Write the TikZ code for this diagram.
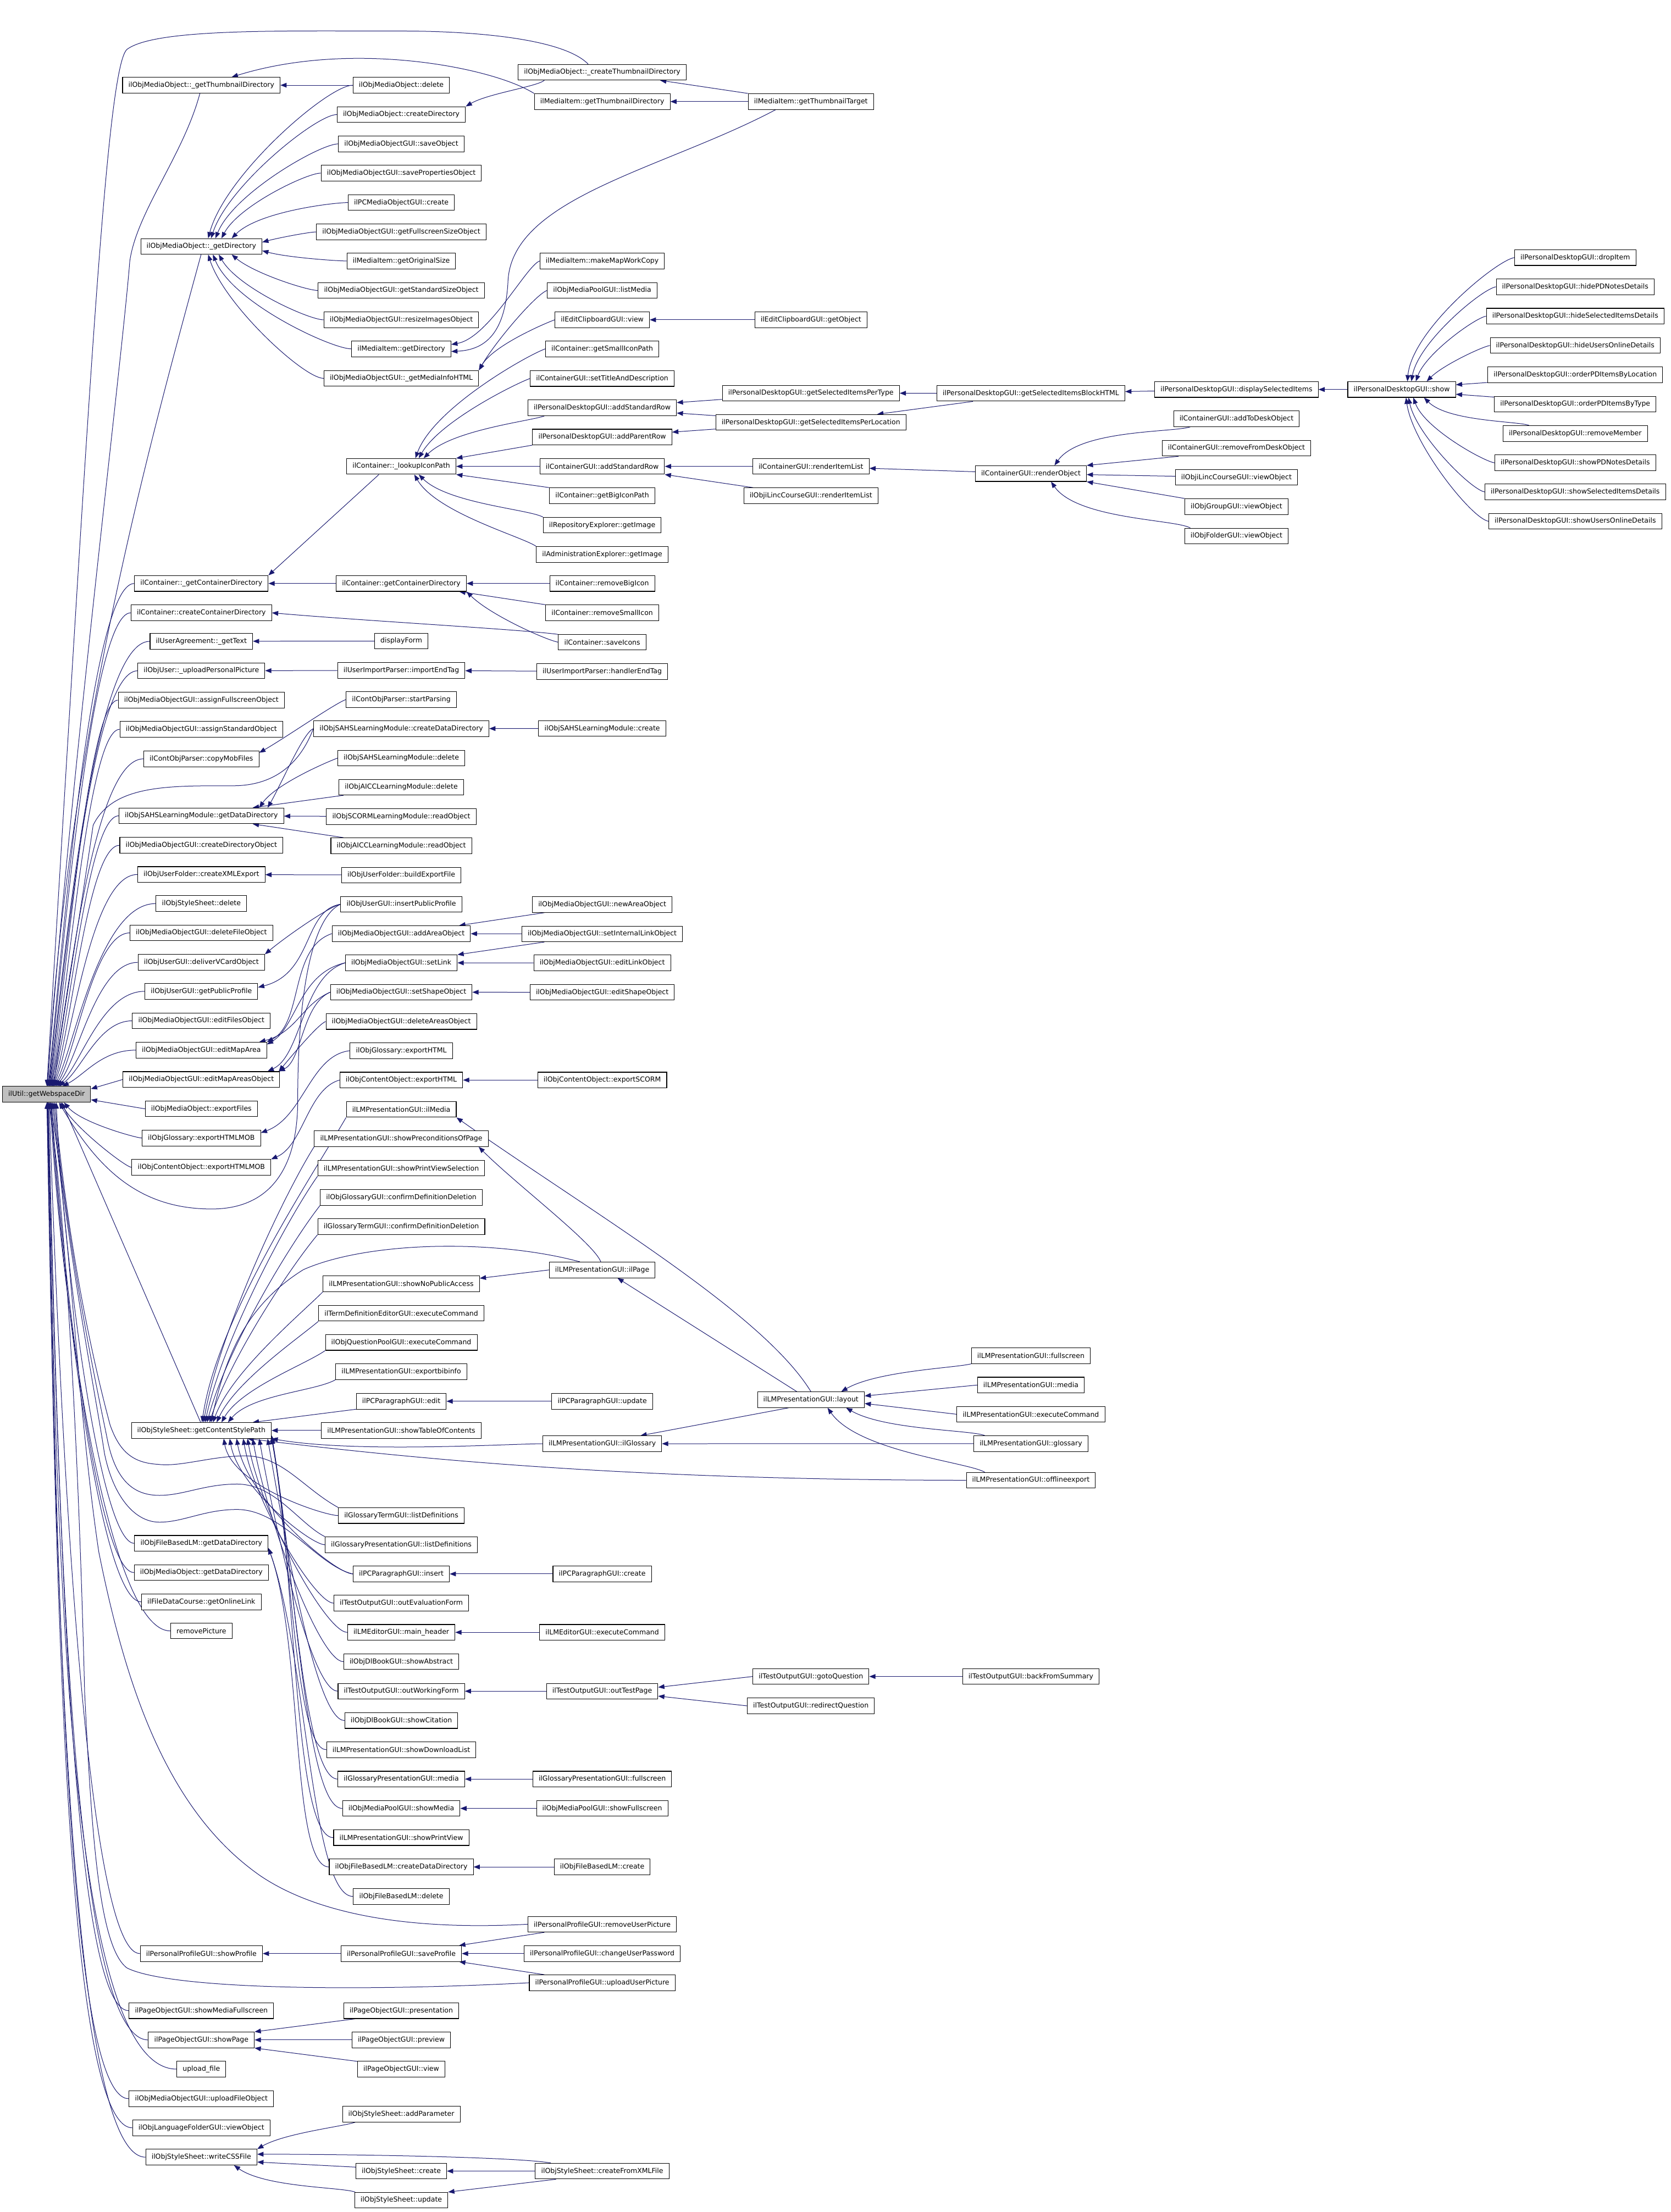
\documentclass[tikz,border=0pt]{standalone}
\usepackage{fontspec}
\setmainfont{DejaVu Sans}
\usetikzlibrary{arrows.meta}
\pgfdeclarelayer{bg}
\pgfsetlayers{bg,main}
\definecolor{edgecol}{HTML}{191970}
\definecolor{rootfill}{HTML}{BFBFBF}
\tikzset{
 fn/.style={draw=black, line width=0.8pt, fill=white, rectangle, minimum height=21.4pt, inner xsep=8pt, inner ysep=0pt, font=\fontsize{9.375pt}{11pt}\selectfont},
 e/.style={draw=edgecol, line width=0.75pt, -{Triangle[length=8.5pt,width=6.5pt]}, out looseness=0.3, in looseness=0.8},
}
\newcommand\RootEdge[3]{\draw[e,out=180,in=#3,out looseness=0.15,in looseness=0.8] (#1.west) to (root.#2);}
% caller, root anchor angle, first control, second control
\newcommand\RootCurve[4]{\draw[e] (#1.west) .. controls (#3) and (#4) .. (root.#2);}
\begin{document}
\begin{tikzpicture}[x=1.9257pt,y=-1.9257pt]
\useasboundingbox (0,0) rectangle (1184,1568);
% root
\node[fn,fill=rootfill] (root) at (33,775.7) {ilUtil::getWebspaceDir};
% column 1
\node[fn] (a1) at (142.7,60.4) {ilObjMediaObject::\_getThumbnailDirectory};
\node[fn] (a2) at (142.7,174.7) {ilObjMediaObject::\_getDirectory};
\node[fn] (a3) at (142.7,413.6) {ilContainer::\_getContainerDirectory};
\node[fn] (a4) at (142.7,434.4) {ilContainer::createContainerDirectory};
\node[fn] (a5) at (142.7,454.6) {ilUserAgreement::\_getText};
\node[fn] (a6) at (142.7,475.5) {ilObjUser::\_uploadPersonalPicture};
\node[fn] (a7) at (142.7,496.3) {ilObjMediaObjectGUI::assignFullscreenObject};
\node[fn] (a8) at (142.7,517.0) {ilObjMediaObjectGUI::assignStandardObject};
\node[fn] (a9) at (142.7,537.9) {ilContObjParser::copyMobFiles};
\node[fn] (a10) at (142.7,578.3) {ilObjSAHSLearningModule::getDataDirectory};
\node[fn] (a11) at (142.7,599.2) {ilObjMediaObjectGUI::createDirectoryObject};
\node[fn] (a12) at (142.7,619.9) {ilObjUserFolder::createXMLExport};
\node[fn] (a13) at (142.7,640.5) {ilObjStyleSheet::delete};
\node[fn] (a14) at (142.7,661.3) {ilObjMediaObjectGUI::deleteFileObject};
\node[fn] (a15) at (142.7,682.2) {ilObjUserGUI::deliverVCardObject};
\node[fn] (a16) at (142.7,702.7) {ilObjUserGUI::getPublicProfile};
\node[fn] (a17) at (142.7,723.6) {ilObjMediaObjectGUI::editFilesObject};
\node[fn] (a18) at (142.7,744.4) {ilObjMediaObjectGUI::editMapArea};
\node[fn] (a19) at (142.7,765.2) {ilObjMediaObjectGUI::editMapAreasObject};
\node[fn] (a20) at (142.7,786.0) {ilObjMediaObject::exportFiles};
\node[fn] (a21) at (142.7,806.7) {ilObjGlossary::exportHTMLMOB};
\node[fn] (a22) at (142.7,827.5) {ilObjContentObject::exportHTMLMOB};
\node[fn] (a23) at (142.7,1014.0) {ilObjStyleSheet::getContentStylePath};
\node[fn] (a24) at (142.7,1094.0) {ilObjFileBasedLM::getDataDirectory};
\node[fn] (a25) at (142.7,1114.7) {ilObjMediaObject::getDataDirectory};
\node[fn] (a26) at (142.7,1135.5) {ilFileDataCourse::getOnlineLink};
\node[fn] (a27) at (142.7,1156.1) {removePicture};
\node[fn] (a28) at (142.7,1384.8) {ilPersonalProfileGUI::showProfile};
\node[fn] (a29) at (142.7,1425.3) {ilPageObjectGUI::showMediaFullscreen};
\node[fn] (a30) at (142.7,1446.0) {ilPageObjectGUI::showPage};
\node[fn] (a31) at (142.7,1466.7) {upload\_file};
\node[fn] (a32) at (142.7,1487.7) {ilObjMediaObjectGUI::uploadFileObject};
\node[fn] (a33) at (142.7,1508.3) {ilObjLanguageFolderGUI::viewObject};
\node[fn] (a34) at (142.7,1529.1) {ilObjStyleSheet::writeCSSFile};
% column 2
\node[fn] (b1) at (284.4,60.4) {ilObjMediaObject::delete};
\node[fn] (b2) at (284.4,81.2) {ilObjMediaObject::createDirectory};
\node[fn] (b3) at (284.4,102.0) {ilObjMediaObjectGUI::saveObject};
\node[fn] (b4) at (284.4,122.7) {ilObjMediaObjectGUI::savePropertiesObject};
\node[fn] (b5) at (284.4,143.6) {ilPCMediaObjectGUI::create};
\node[fn] (b6) at (284.4,164.4) {ilObjMediaObjectGUI::getFullscreenSizeObject};
\node[fn] (b7) at (284.4,185.0) {ilMediaItem::getOriginalSize};
\node[fn] (b8) at (284.4,205.9) {ilObjMediaObjectGUI::getStandardSizeObject};
\node[fn] (b9) at (284.4,226.7) {ilObjMediaObjectGUI::resizeImagesObject};
\node[fn] (b10) at (284.4,247.3) {ilMediaItem::getDirectory};
\node[fn] (b11) at (284.4,268.2) {ilObjMediaObjectGUI::\_getMediaInfoHTML};
\node[fn] (b12) at (284.4,330.6) {ilContainer::\_lookupIconPath};
\node[fn] (b13) at (284.4,413.6) {ilContainer::getContainerDirectory};
\node[fn] (b14) at (284.4,454.4) {displayForm};
\node[fn] (b15) at (284.4,475.2) {ilUserImportParser::importEndTag};
\node[fn] (b16) at (284.4,495.9) {ilContObjParser::startParsing};
\node[fn] (b17) at (284.4,516.5) {ilObjSAHSLearningModule::createDataDirectory};
\node[fn] (b18) at (284.4,537.4) {ilObjSAHSLearningModule::delete};
\node[fn] (b19) at (284.4,558.0) {ilObjAICCLearningModule::delete};
\node[fn] (b20) at (284.4,578.8) {ilObjSCORMLearningModule::readObject};
\node[fn] (b21) at (284.4,599.5) {ilObjAICCLearningModule::readObject};
\node[fn] (b22) at (284.4,620.3) {ilObjUserFolder::buildExportFile};
\node[fn] (b23) at (284.4,641.0) {ilObjUserGUI::insertPublicProfile};
\node[fn] (b24) at (284.4,661.8) {ilObjMediaObjectGUI::addAreaObject};
\node[fn] (b25) at (284.4,682.5) {ilObjMediaObjectGUI::setLink};
\node[fn] (b26) at (284.4,703.3) {ilObjMediaObjectGUI::setShapeObject};
\node[fn] (b27) at (284.4,724.1) {ilObjMediaObjectGUI::deleteAreasObject};
\node[fn] (b28) at (284.4,744.8) {ilObjGlossary::exportHTML};
\node[fn] (b29) at (284.4,765.6) {ilObjContentObject::exportHTML};
\node[fn] (b30) at (284.4,786.4) {ilLMPresentationGUI::ilMedia};
\node[fn] (b31) at (284.4,807.2) {ilLMPresentationGUI::showPreconditionsOfPage};
\node[fn] (b32) at (284.4,828.0) {ilLMPresentationGUI::showPrintViewSelection};
\node[fn] (b33) at (284.4,848.8) {ilObjGlossaryGUI::confirmDefinitionDeletion};
\node[fn] (b34) at (284.4,869.5) {ilGlossaryTermGUI::confirmDefinitionDeletion};
\node[fn] (b35) at (284.4,910.0) {ilLMPresentationGUI::showNoPublicAccess};
\node[fn] (b36) at (284.4,930.9) {ilTermDefinitionEditorGUI::executeCommand};
\node[fn] (b37) at (284.4,951.6) {ilObjQuestionPoolGUI::executeCommand};
\node[fn] (b38) at (284.4,972.3) {ilLMPresentationGUI::exportbibinfo};
\node[fn] (b39) at (284.4,993.3) {ilPCParagraphGUI::edit};
\node[fn] (b40) at (284.4,1014.0) {ilLMPresentationGUI::showTableOfContents};
\node[fn] (b41) at (284.4,1074.3) {ilGlossaryTermGUI::listDefinitions};
\node[fn] (b42) at (284.4,1095.0) {ilGlossaryPresentationGUI::listDefinitions};
\node[fn] (b43) at (284.4,1115.7) {ilPCParagraphGUI::insert};
\node[fn] (b44) at (284.4,1136.4) {ilTestOutputGUI::outEvaluationForm};
\node[fn] (b45) at (284.4,1157.1) {ilLMEditorGUI::main\_header};
\node[fn] (b46) at (284.4,1177.9) {ilObjDlBookGUI::showAbstract};
\node[fn] (b47) at (284.4,1198.8) {ilTestOutputGUI::outWorkingForm};
\node[fn] (b48) at (284.4,1219.6) {ilObjDlBookGUI::showCitation};
\node[fn] (b49) at (284.4,1240.3) {ilLMPresentationGUI::showDownloadList};
\node[fn] (b50) at (284.4,1261.1) {ilGlossaryPresentationGUI::media};
\node[fn] (b51) at (284.4,1281.9) {ilObjMediaPoolGUI::showMedia};
\node[fn] (b52) at (284.4,1302.6) {ilLMPresentationGUI::showPrintView};
\node[fn] (b53) at (284.4,1323.4) {ilObjFileBasedLM::createDataDirectory};
\node[fn] (b54) at (284.4,1344.3) {ilObjFileBasedLM::delete};
\node[fn] (b55) at (284.4,1384.8) {ilPersonalProfileGUI::saveProfile};
\node[fn] (b56) at (284.4,1425.3) {ilPageObjectGUI::presentation};
\node[fn] (b57) at (284.4,1446.0) {ilPageObjectGUI::preview};
\node[fn] (b58) at (284.4,1466.7) {ilPageObjectGUI::view};
\node[fn] (b59) at (284.4,1498.6) {ilObjStyleSheet::addParameter};
\node[fn] (b60) at (284.4,1539.0) {ilObjStyleSheet::create};
\node[fn] (b61) at (284.4,1559.6) {ilObjStyleSheet::update};
% column 3
\node[fn] (c1) at (426.8,51.2) {ilObjMediaObject::\_createThumbnailDirectory};
\node[fn] (c2) at (426.8,72.0) {ilMediaItem::getThumbnailDirectory};
\node[fn] (c3) at (426.8,185.0) {ilMediaItem::makeMapWorkCopy};
\node[fn] (c4) at (426.8,205.9) {ilObjMediaPoolGUI::listMedia};
\node[fn] (c5) at (426.8,226.7) {ilEditClipboardGUI::view};
\node[fn] (c6) at (426.8,247.3) {ilContainer::getSmallIconPath};
\node[fn] (c7) at (426.8,268.3) {ilContainerGUI::setTitleAndDescription};
\node[fn] (c8) at (426.8,289.1) {ilPersonalDesktopGUI::addStandardRow};
\node[fn] (c9) at (426.8,309.8) {ilPersonalDesktopGUI::addParentRow};
\node[fn] (c10) at (426.8,330.6) {ilContainerGUI::addStandardRow};
\node[fn] (c11) at (426.8,351.4) {ilContainer::getBigIconPath};
\node[fn] (c12) at (426.8,372.3) {ilRepositoryExplorer::getImage};
\node[fn] (c13) at (426.8,393.0) {ilAdministrationExplorer::getImage};
\node[fn] (c14) at (426.8,413.6) {ilContainer::removeBigIcon};
\node[fn] (c15) at (426.8,434.4) {ilContainer::removeSmallIcon};
\node[fn] (c16) at (426.8,455.2) {ilContainer::saveIcons};
\node[fn] (c17) at (426.8,476.0) {ilUserImportParser::handlerEndTag};
\node[fn] (c18) at (426.8,516.4) {ilObjSAHSLearningModule::create};
\node[fn] (c19) at (426.8,641.2) {ilObjMediaObjectGUI::newAreaObject};
\node[fn] (c20) at (426.8,662.0) {ilObjMediaObjectGUI::setInternalLinkObject};
\node[fn] (c21) at (426.8,682.6) {ilObjMediaObjectGUI::editLinkObject};
\node[fn] (c22) at (426.8,703.4) {ilObjMediaObjectGUI::editShapeObject};
\node[fn] (c23) at (426.8,765.6) {ilObjContentObject::exportSCORM};
\node[fn] (c24) at (426.8,900.2) {ilLMPresentationGUI::ilPage};
\node[fn] (c25) at (426.8,993.3) {ilPCParagraphGUI::update};
\node[fn] (c26) at (426.8,1023.4) {ilLMPresentationGUI::ilGlossary};
\node[fn] (c27) at (426.8,1115.7) {ilPCParagraphGUI::create};
\node[fn] (c28) at (426.8,1157.1) {ilLMEditorGUI::executeCommand};
\node[fn] (c29) at (426.8,1198.8) {ilTestOutputGUI::outTestPage};
\node[fn] (c30) at (426.8,1261.1) {ilGlossaryPresentationGUI::fullscreen};
\node[fn] (c31) at (426.8,1281.9) {ilObjMediaPoolGUI::showFullscreen};
\node[fn] (c32) at (426.8,1323.4) {ilObjFileBasedLM::create};
\node[fn] (c33) at (426.8,1364.0) {ilPersonalProfileGUI::removeUserPicture};
\node[fn] (c34) at (426.8,1384.8) {ilPersonalProfileGUI::changeUserPassword};
\node[fn] (c35) at (426.8,1405.5) {ilPersonalProfileGUI::uploadUserPicture};
\node[fn] (c36) at (426.8,1539.0) {ilObjStyleSheet::createFromXMLFile};
% column 4
\node[fn] (d1) at (574.7,72.0) {ilMediaItem::getThumbnailTarget};
\node[fn] (d2) at (574.7,226.7) {ilEditClipboardGUI::getObject};
\node[fn] (d3) at (574.7,278.7) {ilPersonalDesktopGUI::getSelectedItemsPerType};
\node[fn] (d4) at (574.7,299.4) {ilPersonalDesktopGUI::getSelectedItemsPerLocation};
\node[fn] (d5) at (574.7,330.6) {ilContainerGUI::renderItemList};
\node[fn] (d6) at (574.7,351.4) {ilObjiLincCourseGUI::renderItemList};
\node[fn] (d7) at (574.7,992.2) {ilLMPresentationGUI::layout};
\node[fn] (d8) at (574.7,1188.4) {ilTestOutputGUI::gotoQuestion};
\node[fn] (d9) at (574.7,1209.2) {ilTestOutputGUI::redirectQuestion};
% column 5
\node[fn] (e1) at (730.6,278.8) {ilPersonalDesktopGUI::getSelectedItemsBlockHTML};
\node[fn] (e2) at (730.6,335.7) {ilContainerGUI::renderObject};
\node[fn] (e3) at (730.6,961.0) {ilLMPresentationGUI::fullscreen};
\node[fn] (e4) at (730.6,981.8) {ilLMPresentationGUI::media};
\node[fn] (e5) at (730.6,1002.5) {ilLMPresentationGUI::executeCommand};
\node[fn] (e6) at (730.6,1023.3) {ilLMPresentationGUI::glossary};
\node[fn] (e7) at (730.6,1049.3) {ilLMPresentationGUI::offlineexport};
\node[fn] (e8) at (730.6,1188.4) {ilTestOutputGUI::backFromSummary};
% column 6
\node[fn] (f1) at (876.3,276.1) {ilPersonalDesktopGUI::displaySelectedItems};
\node[fn] (f2) at (876.3,296.8) {ilContainerGUI::addToDeskObject};
\node[fn] (f3) at (876.3,317.7) {ilContainerGUI::removeFromDeskObject};
\node[fn] (f4) at (876.3,338.4) {ilObjiLincCourseGUI::viewObject};
\node[fn] (f5) at (876.3,359.1) {ilObjGroupGUI::viewObject};
\node[fn] (f6) at (876.3,380.0) {ilObjFolderGUI::viewObject};
% column 7
\node[fn] (g1) at (993.4,276.1) {ilPersonalDesktopGUI::show};
% column 8
\node[fn] (h1) at (1116.4,182.6) {ilPersonalDesktopGUI::dropItem};
\node[fn] (h2) at (1116.4,203.3) {ilPersonalDesktopGUI::hidePDNotesDetails};
\node[fn] (h3) at (1116.4,224.1) {ilPersonalDesktopGUI::hideSelectedItemsDetails};
\node[fn] (h4) at (1116.4,244.9) {ilPersonalDesktopGUI::hideUsersOnlineDetails};
\node[fn] (h5) at (1116.4,265.7) {ilPersonalDesktopGUI::orderPDItemsByLocation};
\node[fn] (h6) at (1116.4,286.5) {ilPersonalDesktopGUI::orderPDItemsByType};
\node[fn] (h7) at (1116.4,307.3) {ilPersonalDesktopGUI::removeMember};
\node[fn] (h8) at (1116.4,328.1) {ilPersonalDesktopGUI::showPDNotesDetails};
\node[fn] (h9) at (1116.4,348.7) {ilPersonalDesktopGUI::showSelectedItemsDetails};
\node[fn] (h10) at (1116.4,369.5) {ilPersonalDesktopGUI::showUsersOnlineDetails};

\begin{pgfonlayer}{bg}
\fill[white] (0,0) rectangle (1184,1568);
% ---- edges into root
\draw[e] (a1.-100) .. controls (130,110) and (97,150) .. (92,185) .. controls (86,260) and (50,550) .. (root.85);
\draw[e] (a2.-92) .. controls (110,300) and (48,520) .. (root.82);
\RootCurve{a3}{78}{65,413.6}{45,660}
\RootCurve{a4}{75}{65,434.4}{45,670}
\RootCurve{a5}{72}{66,454.6}{46,680}
\RootCurve{a6}{70}{64,475.5}{46,690}
\RootCurve{a7}{67}{62,496.3}{47,700}
\RootCurve{a8}{64}{62,517}{48,710}
\RootCurve{a9}{61}{64,537.9}{48,718}
\RootCurve{a10}{58}{62,578.3}{49,728}
\RootCurve{a11}{55}{62,599.2}{50,735}
\RootCurve{a12}{52}{64,619.9}{51,740}
\RootCurve{a13}{48}{70,640.5}{52,745}
\RootCurve{a14}{45}{66,661.3}{53,750}
\RootCurve{a15}{41}{68,682.2}{55,752}
\RootCurve{a16}{37}{72,702.7}{57,755}
\RootCurve{a17}{33}{70,723.6}{58,758}
\RootCurve{a18}{27}{72,744.4}{60,762}
\draw[e] (a19.west) -- (root.7);
\draw[e] (a20.west) -- (root.-7);
\RootEdge{a21}{-25}{-50}
\RootEdge{a22}{-30}{-60}
\draw[e] (a23.95) -- (root.-28);
\RootCurve{a24}{-40}{70,1094}{44,880}
\RootCurve{a25}{-58}{68,1114.7}{43,890}
\RootCurve{a26}{-62}{70,1135.5}{43,900}
\RootCurve{a27}{-65}{75,1156.1}{42,910}
\RootCurve{a28}{-72}{60,1384.8}{42,1000}
\RootCurve{a29}{-78}{50,1425.3}{41,1050}
\RootCurve{a30}{-80}{50,1446}{41,1060}
\RootCurve{a31}{-82}{45,1466.7}{40,1070}
\RootCurve{a32}{-84}{45,1487.7}{40,1080}
\RootCurve{a33}{-86}{45,1508.3}{39,1090}
\RootCurve{a34}{-88}{48,1529.1}{39,1100}
% long edges into root
\draw[e] (c1.150) .. controls (400,28) and (340,22) .. (284,22) .. controls (200,22) and (110,20) .. (90,35) .. controls (75,48) and (62,300) .. (root.88);
\draw[e] (b17.west) .. controls (215,535) and (200,557) .. (165,557) .. controls (120,557) and (80,556) .. (66,585) .. controls (58,640) and (45,720) .. (root.50);
\draw[e] (b23.west) .. controls (222,650) and (211,700) .. (211,780) .. controls (211,830) and (190,857) .. (150,857) .. controls (100,857) and (70,830) .. (root.-33);
\draw[e] (b41.north west) .. controls (215,1055) and (200,1032) .. (174,1032) .. controls (150,1032) and (128,1040) .. (112,1038) .. controls (95,1037) and (85,1030) .. (78,1010) .. controls (70,980) and (50,900) .. (root.-45);
\draw[e] (b42.north west) .. controls (212,1080) and (195,1052) .. (168,1052) .. controls (145,1052) and (130,1060) .. (113,1060) .. controls (95,1060) and (82,1050) .. (76,1020) .. controls (70,990) and (50,900) .. (root.-50);
\draw[e] (b43.west) .. controls (225,1110) and (200,1070) .. (168,1070) .. controls (145,1070) and (130,1079) .. (113,1079) .. controls (95,1079) and (80,1060) .. (74,1030) .. controls (68,990) and (50,900) .. (root.-55);
\draw[e] (c33.west) .. controls (300,1368) and (230,1360) .. (185,1330) .. controls (120,1285) and (90,1200) .. (70,1100) .. controls (55,1000) and (48,850) .. (root.-68);
\draw[e] (c35.west) .. controls (250,1412) and (120,1410) .. (90,1395) .. controls (70,1380) and (65,1300) .. (60,1200) .. controls (55,1000) and (45,850) .. (root.-75);
% ---- top cluster
\draw[e] (b1) -- (a1);
\draw[e] (c2.north west) .. controls (350,48) and (250,28) .. (a1.15);
\draw[e] (d1) -- (c2);
\draw[e] (d1.north west) -- (c1.-8);
\draw[e] (c1.-172) to[out=220,in=30] (b2.north east);
\draw[e] (b1.west) to[out=180,in=75] (a2.50);
\draw[e] (b2.west) to[out=180,in=72] (a2.40);
\draw[e] (b3.west) to[out=180,in=68] (a2.30);
\draw[e] (b4.west) to[out=180,in=62] (a2.22);
\draw[e] (b5.west) to[out=180,in=45] (a2.15);
\draw[e] (b6.west) to[out=180,in=15] (a2.4);
\draw[e] (b7.west) to[out=180,in=-15] (a2.-4);
\draw[e] (b8.west) to[out=180,in=-40] (a2.-15);
\draw[e] (b9.west) to[out=180,in=-60] (a2.-25);
\draw[e] (b10.west) to[out=180,in=-68] (a2.-35);
\draw[e] (b11.west) to[out=180,in=-72] (a2.-50);
\draw[e] (d1.-167) .. controls (470,120) and (362,140) .. (360,200) .. controls (358,235) and (345,248) .. (b10.-3);
\draw[e] (c3.west) to[out=200,in=10] (b10.5);
\draw[e] (c4.west) to[out=200,in=60] (b11.north east);
\draw[e] (c5.west) to[out=200,in=60] (b11.north east);
\draw[e] (d2) -- (c5);
% ---- lookupIconPath cluster
\draw[e] (c6.west) to[out=200,in=70] (b12.30);
\draw[e] (c7.west) to[out=200,in=60] (b12.25);
\draw[e] (c8.-172) to[out=200,in=45] (b12.20);
\draw[e] (c9.south west) -- (b12.north east);
\draw[e] (c10) -- (b12);
\draw[e] (c11.north west) -- (b12.south east);
\draw[e] (c12.north west) to[out=150,in=-45] (b12.-25);
\draw[e] (c13.north west) to[out=145,in=-60] (b12.-32);
\draw[e] (b12.-160) -- (a3.north east);
\draw[e] (b13) -- (a3);
\draw[e] (c14) -- (b13);
\draw[e] (c15.north west) -- (b13.-8);
\draw[e] (c16.west) to[out=170,in=-45] (b13.south east);
\draw[e] (c16.170) to[out=172,in=-5] (a4.east);
\draw[e] (b14) -- (a5);
\draw[e] (b15) -- (a6);
\draw[e] (c17) -- (b15);
\draw[e] (b16.west) to[out=200,in=30] (a9.6);
\draw[e] (b17.west) to[out=200,in=60] (a10.7);
\draw[e] (b18.west) to[out=200,in=55] (a10.8);
\draw[e] (b19.-172) -- (a10.9);
\draw[e] (b20) -- (a10);
\draw[e] (b21.172) -- (a10.-9);
\draw[e] (c18) -- (b17);
\draw[e] (b22) -- (a12);
% ---- user / map area
\draw[e] (b23.west) to[out=190,in=40] (a15.north east);
\draw[e] (b23.west) .. controls (215,645) and (222,690) .. (a16.4);
\draw[e] (b24.west) .. controls (205,672) and (215,725) .. (a18.north east);
\draw[e] (b25.west) .. controls (212,690) and (210,728) .. (a18.5);
\draw[e] (b25.west) .. controls (214,692) and (214,748) .. (a19.7);
\draw[e] (b26.west) .. controls (214,712) and (210,732) .. (a18.8);
\draw[e] (b26.west) .. controls (214,712) and (214,752) .. (a19.6);
\draw[e] (b27.west) to[out=200,in=50] (a19.6);
\draw[e] (c19.-172) -- (b24.8);
\draw[e] (c20) -- (b24);
\draw[e] (c20.-172) -- (b25.north east);
\draw[e] (c21) -- (b25);
\draw[e] (c22) -- (b26);
\draw[e] (b28.west) .. controls (220,748) and (215,792) .. (a21.5);
\draw[e] (b29.west) .. controls (218,772) and (215,812) .. (a22.north east);
\draw[e] (c23) -- (b29);
% ---- LM presentation
\draw[e] (d7.north) .. controls (540,930) and (420,860) .. (b30.south east);
\draw[e] (d7.150) -- (c24.-28);
\draw[e] (d7.-160) -- (c26.12);
\draw[e] (c24.100) to[out=110,in=-45] (b31.-6);
\draw[e] (c24.west) -- (b35.4);
\draw[e] (c24.160) .. controls (350,878) and (260,880) .. (215,900) .. controls (175,925) and (160,960) .. (a23.40);
\draw[e] (e6) -- (c26);
\draw[e] (c26.west) to[out=180,in=-10] (a23.south east);
\draw[e] (e7.west) .. controls (450,1049) and (300,1035) .. (a23.-10);
\draw[e] (e3.south west) to[out=195,in=30] (d7.15);
\draw[e] (e4.west) -- (d7.4);
\draw[e] (e5.west) -- (d7.-4);
\draw[e] (e6.170) to[out=160,in=-30] (d7.-13);
\draw[e] (e7.170) to[out=150,in=-55] (d7.-26);
% upper callers of getContentStylePath
\draw[e,out looseness=0.5] (b30.south west) to[out=240,in=82] (a23.85);
\draw[e,out looseness=0.5] (b31.south west) to[out=238,in=80] (a23.75);
\draw[e,out looseness=0.5] (b32.south west) to[out=235,in=78] (a23.65);
\draw[e,out looseness=0.5] (b33.south west) to[out=232,in=75] (a23.55);
\draw[e,out looseness=0.5] (b34.south west) to[out=230,in=72] (a23.45);
\draw[e,out looseness=0.5] (b35.south west) to[out=225,in=70] (a23.35);
\draw[e,out looseness=0.5] (b36.south west) to[out=220,in=65] (a23.28);
\draw[e,out looseness=0.5] (b37.south west) to[out=215,in=60] (a23.22);
\draw[e,out looseness=0.5] (b38.south west) to[out=210,in=50] (a23.17);
\draw[e] (b39.-170) -- (a23.9);
\draw[e] (c25) -- (b39);
\draw[e] (b40) -- (a23);
% lower callers of getContentStylePath
\draw[e,out looseness=0.25,in looseness=0.9] (b41.west) to[out=180,in=-80] (a23.-20);
\draw[e,out looseness=0.25,in looseness=0.9] (b42.west) to[out=180,in=-80] (a23.-16);
\draw[e,out looseness=0.25,in looseness=0.9] (b43.west) to[out=180,in=-80] (a23.-13);
\draw[e,out looseness=0.25,in looseness=0.9] (b44.west) to[out=180,in=-80] (a23.-11);
\draw[e,out looseness=0.25,in looseness=0.9] (b45.west) to[out=180,in=-80] (a23.-10);
\draw[e,out looseness=0.25,in looseness=0.9] (b46.west) to[out=180,in=-80] (a23.-9);
\draw[e,out looseness=0.25,in looseness=0.9] (b47.west) to[out=180,in=-80] (a23.-8);
\draw[e,out looseness=0.25,in looseness=0.9] (b48.west) to[out=180,in=-80] (a23.-7);
\draw[e,out looseness=0.25,in looseness=0.9] (b49.west) to[out=180,in=-80] (a23.-6);
\draw[e,out looseness=0.25,in looseness=0.9] (b50.west) to[out=180,in=-80] (a23.-6);
\draw[e,out looseness=0.25,in looseness=0.9] (b51.west) to[out=180,in=-80] (a23.-5);
\draw[e,out looseness=0.25,in looseness=0.9] (b52.west) to[out=180,in=-80] (a23.-4);
\draw[e] (b53.west) to[out=180,in=-70] (a24.-4);
\draw[e] (b54.west) to[out=180,in=-70] (a24.-4);
\draw[e] (c27) -- (b43);
\draw[e] (c28) -- (b45);
\draw[e] (c29) -- (b47);
\draw[e] (d8.west) -- (c29.4);
\draw[e] (d9.west) -- (c29.-5);
\draw[e] (e8) -- (d8);
\draw[e] (c30) -- (b50);
\draw[e] (c31) -- (b51);
\draw[e] (c32) -- (b53);
% ---- profile / page / style sheet
\draw[e] (b55) -- (a28);
\draw[e] (c33.-172) -- (b55.8);
\draw[e] (c34) -- (b55);
\draw[e] (c35.172) -- (b55.-8);
\draw[e] (b56.-170) -- (a30.north east);
\draw[e] (b57) -- (a30);
\draw[e] (b58.170) -- (a30.south east);
\draw[e] (b59.-170) to[out=200,in=30] (a34.north east);
\draw[e] (b60.175) -- (a34.-5);
\draw[e] (b61.170) to[out=160,in=-35] (a34.-14);
\draw[e] (c36.171) to[out=170,in=0] (a34.3);
\draw[e] (c36) -- (b60);
\draw[e] (c36.-170) -- (b61.north east);
% ---- personal desktop cluster
\draw[e] (d3.-176) -- (c8.4);
\draw[e] (d4.176) -- (c8.-4);
\draw[e] (d4.-176) -- (c9.4);
\draw[e] (e1) -- (d3);
\draw[e] (e1.-172) -- (d4.7);
\draw[e] (f1) -- (e1);
\draw[e] (g1) -- (f1);
\draw[e] (h1.west) to[out=190,in=85] (g1.55);
\draw[e] (h2.west) to[out=190,in=80] (g1.40);
\draw[e] (h3.west) to[out=190,in=70] (g1.30);
\draw[e] (h4.west) to[out=190,in=45] (g1.18);
\draw[e] (h5.-175) -- (g1.5);
\draw[e] (h6.175) -- (g1.-5);
\draw[e] (h7.170) to[out=160,in=-45] (g1.-20);
\draw[e] (h8.west) to[out=170,in=-70] (g1.-35);
\draw[e] (h9.west) to[out=170,in=-78] (g1.-50);
\draw[e] (h10.west) to[out=170,in=-82] (g1.-62);
% ---- render cluster
\draw[e] (e2) -- (d5);
\draw[e] (d5) -- (c10);
\draw[e] (d6.172) -- (c10.south east);
\draw[e] (f2.-170) to[out=200,in=55] (e2.19);
\draw[e] (f3.-172) -- (e2.north east);
\draw[e] (f4) -- (e2);
\draw[e] (f5.north west) -- (e2.south east);
\draw[e] (f6.170) to[out=150,in=-55] (e2.-22);
\end{pgfonlayer}
\end{tikzpicture}
\end{document}
